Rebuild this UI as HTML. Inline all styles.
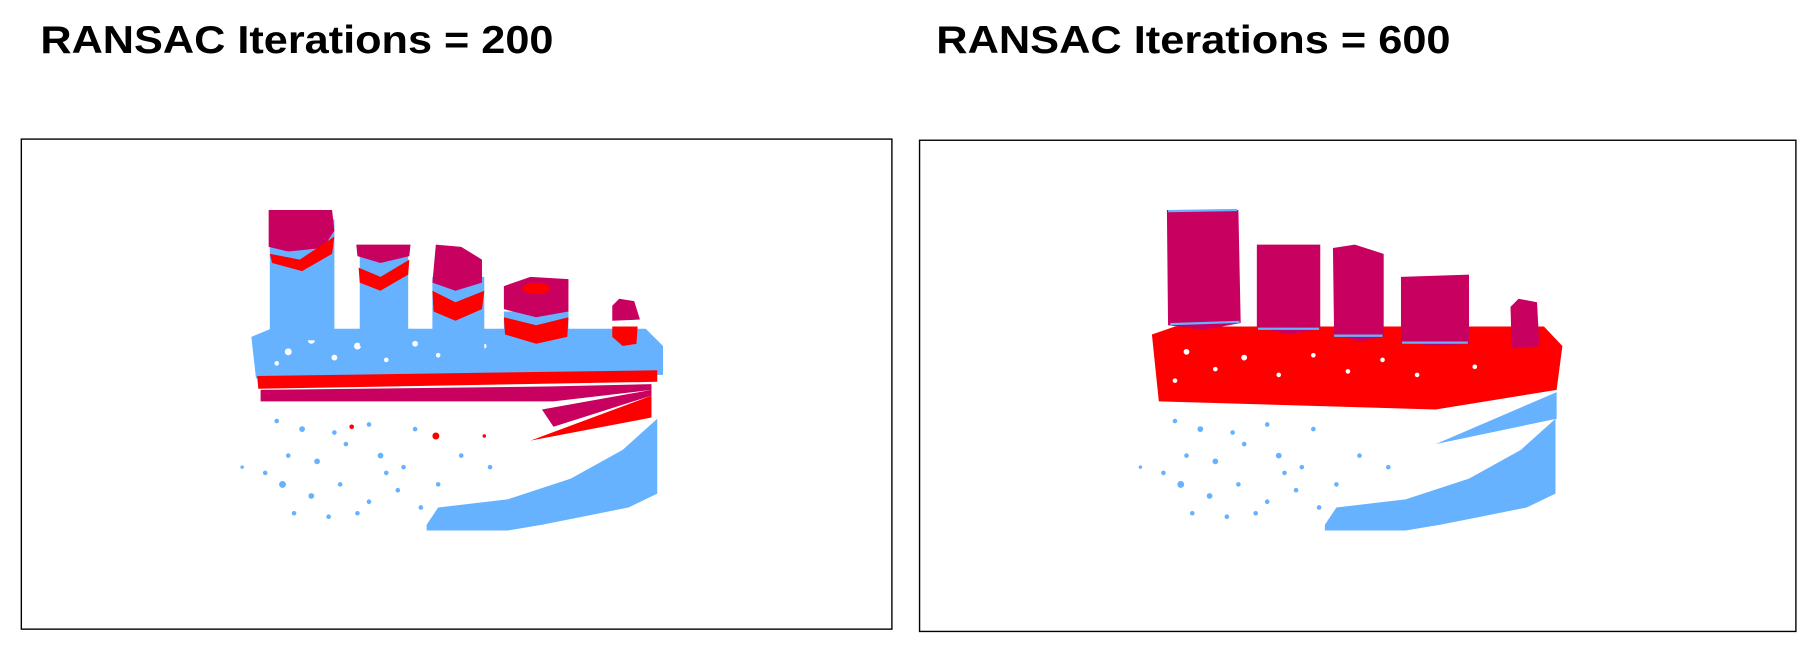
<!DOCTYPE html>
<html><head><meta charset="utf-8"><style>
html,body{margin:0;padding:0;background:#fff;width:1808px;height:646px;overflow:hidden}
svg{display:block}
text{font-family:"Liberation Sans",sans-serif;font-weight:bold}
</style></head><body>
<svg width="1808" height="646" viewBox="0 0 1568 560">
<defs>
<g id="speckle">
<circle cx="0" cy="0" r="2.5"/>
</g>
</defs>
<text x="35" y="46" font-size="34" textLength="445" lengthAdjust="spacingAndGlyphs">RANSAC Iterations = 200</text>
<text x="812" y="46" font-size="34" textLength="446" lengthAdjust="spacingAndGlyphs">RANSAC Iterations = 600</text>

<g>
<rect x="18.5" y="120.5" width="755" height="425" fill="none" stroke="#000" stroke-width="1.2"/>
<g>
<!-- scattered lower points -->
<g fill="#66b2ff" id="dots200">
<circle cx="240" cy="365" r="2"/><circle cx="262" cy="372" r="2.5"/><circle cx="290" cy="375" r="2"/><circle cx="320" cy="368" r="2"/><circle cx="360" cy="372" r="2"/>
<circle cx="250" cy="395" r="2"/><circle cx="275" cy="400" r="2.5"/><circle cx="300" cy="385" r="2"/><circle cx="330" cy="395" r="2.5"/><circle cx="350" cy="405" r="2"/>
<circle cx="245" cy="420" r="3"/><circle cx="270" cy="430" r="2.5"/><circle cx="295" cy="420" r="2"/><circle cx="320" cy="435" r="2"/><circle cx="345" cy="425" r="2"/>
<circle cx="255" cy="445" r="2"/><circle cx="285" cy="448" r="2"/><circle cx="310" cy="445" r="2"/><circle cx="230" cy="410" r="2"/><circle cx="380" cy="420" r="2"/>
<circle cx="400" cy="395" r="2"/><circle cx="425" cy="405" r="2"/><circle cx="210" cy="405" r="1.5"/><circle cx="335" cy="410" r="2"/><circle cx="365" cy="440" r="2"/>
</g>
<circle cx="378" cy="378" r="3" fill="#ff0000"/><circle cx="305" cy="370" r="2" fill="#ff0000"/><circle cx="420" cy="378" r="1.5" fill="#ff0000"/>
<!-- hull -->
<path d="M370,455 L380,440 L440,433 L495,415 L540,390 L570,363 L570,428 L545,440 L505,448 L470,455 L440,460 L370,460 Z" fill="#66b2ff"/>
<!-- deck -->
<path d="M218,292 L235,285 L560,285 L575,300 L575,325 L222,328 Z" fill="#66b2ff"/>
<g fill="#fff"><circle cx="250" cy="305" r="3"/><circle cx="270" cy="295" r="3"/><circle cx="290" cy="310" r="2.5"/><circle cx="310" cy="300" r="3"/><circle cx="335" cy="312" r="2"/><circle cx="360" cy="298" r="2.5"/><circle cx="240" cy="315" r="2"/><circle cx="380" cy="308" r="2"/><circle cx="420" cy="300" r="2"/></g>
<!-- chimneys -->
<rect x="234" y="190" width="56" height="105" fill="#66b2ff"/>
<path d="M233,182 L288,182 L290,200 L280,215 L250,218 L233,214 Z" fill="#c8005f"/>
<path d="M234,220 L260,225 L290,205 L288,220 L262,235 L236,228 Z" fill="#ff0000"/>
<rect x="312" y="220" width="42" height="80" fill="#66b2ff"/>
<path d="M309,212 L356,212 L355,222 L330,228 L310,222 Z" fill="#c8005f"/>
<path d="M311,232 L330,240 L355,225 L354,238 L330,252 L312,245 Z" fill="#ff0000"/>
<rect x="375" y="240" width="45" height="65" fill="#66b2ff"/>
<path d="M378,212 L400,214 L418,225 L418,245 L395,252 L375,245 Z" fill="#c8005f"/>
<path d="M375,252 L395,262 L420,252 L418,268 L395,278 L376,270 Z" fill="#ff0000"/>
<rect x="437" y="270" width="56" height="30" fill="#66b2ff"/>
<path d="M437,248 L460,240 L493,242 L493,270 L465,275 L437,268 Z" fill="#c8005f"/>
<ellipse cx="465" cy="250" rx="12" ry="5" fill="#ff0000"/>
<path d="M437,275 L465,282 L493,275 L492,292 L465,298 L438,290 Z" fill="#ff0000"/>
<path d="M531,265 L537,259 L550,261 L555,277 L531,278 Z" fill="#c8005f"/>
<path d="M531,283 L553,283 L552,298 L540,300 L531,292 Z" fill="#ff0000"/>
<!-- stripes -->
<path d="M223,326 L570,321 L570,331 L224,337 Z" fill="#ff0000"/>
<path d="M226,338 L480,335 L565,333 L565,338 L480,348 L226,348 Z" fill="#c8005f"/>
<path d="M470,355 L565,338 L565,343 L480,370 Z" fill="#c8005f"/>
<path d="M460,382 L565,343 L565,362 Z" fill="#ff0000"/>
</g>
</g>

<g>
<rect x="797.5" y="121.5" width="760" height="426" fill="none" stroke="#000" stroke-width="1.2"/>
<g transform="translate(779,0)">
<use href="#dots200"/>
<path d="M370,455 L380,440 L440,433 L495,415 L540,390 L570,363 L570,428 L545,440 L505,448 L470,455 L440,460 L370,460 Z" fill="#66b2ff"/>
<path d="M466,385 L571,340 L571,363 Z" fill="#66b2ff"/>
<path d="M220,290 L240,283 L560,283 L576,300 L571,338 L466,355 L226,348 Z" fill="#ff0000"/>
<g fill="#fff"><circle cx="250" cy="305" r="2.5"/><circle cx="275" cy="320" r="2"/><circle cx="300" cy="310" r="2.5"/><circle cx="330" cy="325" r="2"/><circle cx="360" cy="308" r="2"/><circle cx="390" cy="322" r="2"/><circle cx="420" cy="312" r="2"/><circle cx="450" cy="325" r="2"/><circle cx="240" cy="330" r="2"/><circle cx="500" cy="318" r="2"/></g>
<path d="M233,182 L295,182 L297,280 L265,286 L234,282 Z" fill="#c8005f"/>
<path d="M311,212 L366,212 L366,285 L340,290 L311,284 Z" fill="#c8005f"/>
<path d="M377,215 L396,212 L421,220 L421,292 L400,296 L378,290 Z" fill="#c8005f"/>
<path d="M436,240 L495,238 L495,298 L465,300 L436,296 Z" fill="#c8005f"/>
<path d="M531,266 L538,259 L554,262 L556,300 L532,302 Z" fill="#c8005f"/>
<g stroke="#66b2ff" stroke-width="2" fill="none"><path d="M234,183 L294,182"/><path d="M236,281 L296,279"/><path d="M312,285 L365,285"/><path d="M378,291 L420,291"/><path d="M437,297 L494,297"/></g>
</g>
</g>
</svg>
</body></html>
